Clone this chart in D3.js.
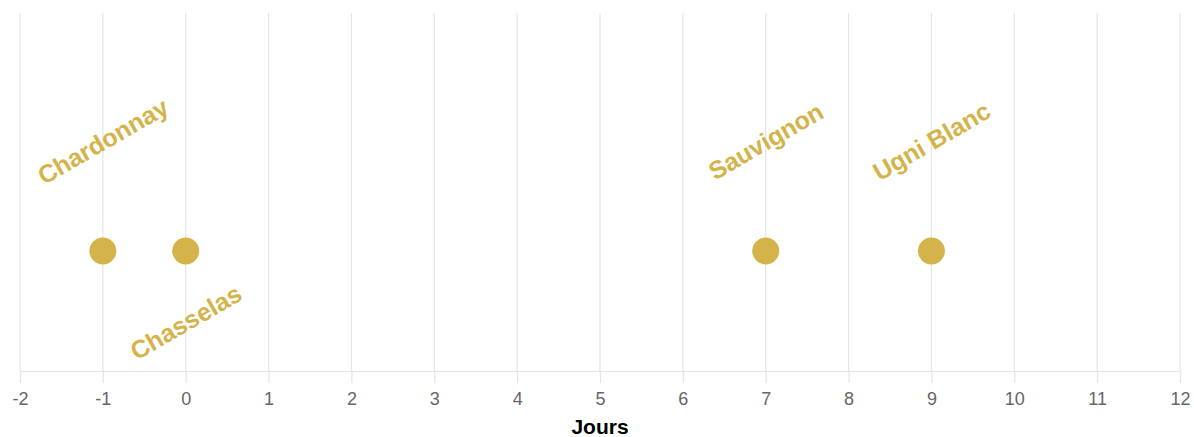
<!DOCTYPE html>
<html><head><meta charset="utf-8">
<script src="https://cdn.jsdelivr.net/npm/d3@7"></script>
<style>body{margin:0;background:#fff;} svg{display:block;font-family:"Liberation Sans",Arial,sans-serif;}</style>
</head><body>
<svg id="c" width="1194" height="437"></svg>
<script>
const varieties = ["Chardonnay","Chasselas","Sauvignon","Ugni Blanc"];
const days = [-1, 0, 7, 9];
const labelSide = ["above","below","above","above"];
const xTicks = [-2,-1,0,1,2,3,4,5,6,7,8,9,10,11,12];
const xTitle = "Jours";

(function(){
const mL=20, mR=1180, mT=13, mB=371, yPoint=251;
const color="#d4b44a";
const svg=d3.select("#c");
const x=d3.scaleLinear().domain([-2,12]).range([mL,mR]);

svg.append("g").selectAll("line").data(xTicks).join("line")
  .attr("x1",d=>x(d)).attr("x2",d=>x(d)).attr("y1",mT).attr("y2",mB)
  .attr("stroke","#e5e5e5").attr("stroke-width",1.2);

const ax=svg.append("g").attr("transform",`translate(0,${mB})`)
  .call(d3.axisBottom(x).tickValues(xTicks).tickSize(12).tickPadding(9).tickFormat(d3.format("d")));
ax.select(".domain").attr("stroke","#e5e5e5").attr("stroke-width",1.2);
ax.selectAll(".tick line").attr("stroke","#e5e5e5").attr("stroke-width",1.2);
ax.selectAll(".tick text").attr("fill","#666").attr("font-size",18).text(d=>d<0?"-"+Math.abs(d):d);

svg.append("text").attr("x",600).attr("y",434).attr("text-anchor","middle")
  .attr("font-weight","bold").attr("font-size",21).attr("fill","#000").text(xTitle);

const data=varieties.map((v,i)=>({v,d:days[i],s:labelSide[i]}));
svg.append("g").selectAll("circle").data(data).join("circle")
  .attr("cx",d=>x(d.d)).attr("cy",yPoint).attr("r",13.5).attr("fill",color);

svg.append("g").selectAll("text").data(data).join("text")
  .attr("transform",d=>`translate(${x(d.d)},${d.s==="above"?yPoint-110:yPoint+71}) rotate(-30)`)
  .attr("text-anchor","middle").attr("dominant-baseline","central")
  .attr("font-weight","bold").attr("font-size",25).attr("fill",color).text(d=>d.v);
})();
</script>
</body></html>
